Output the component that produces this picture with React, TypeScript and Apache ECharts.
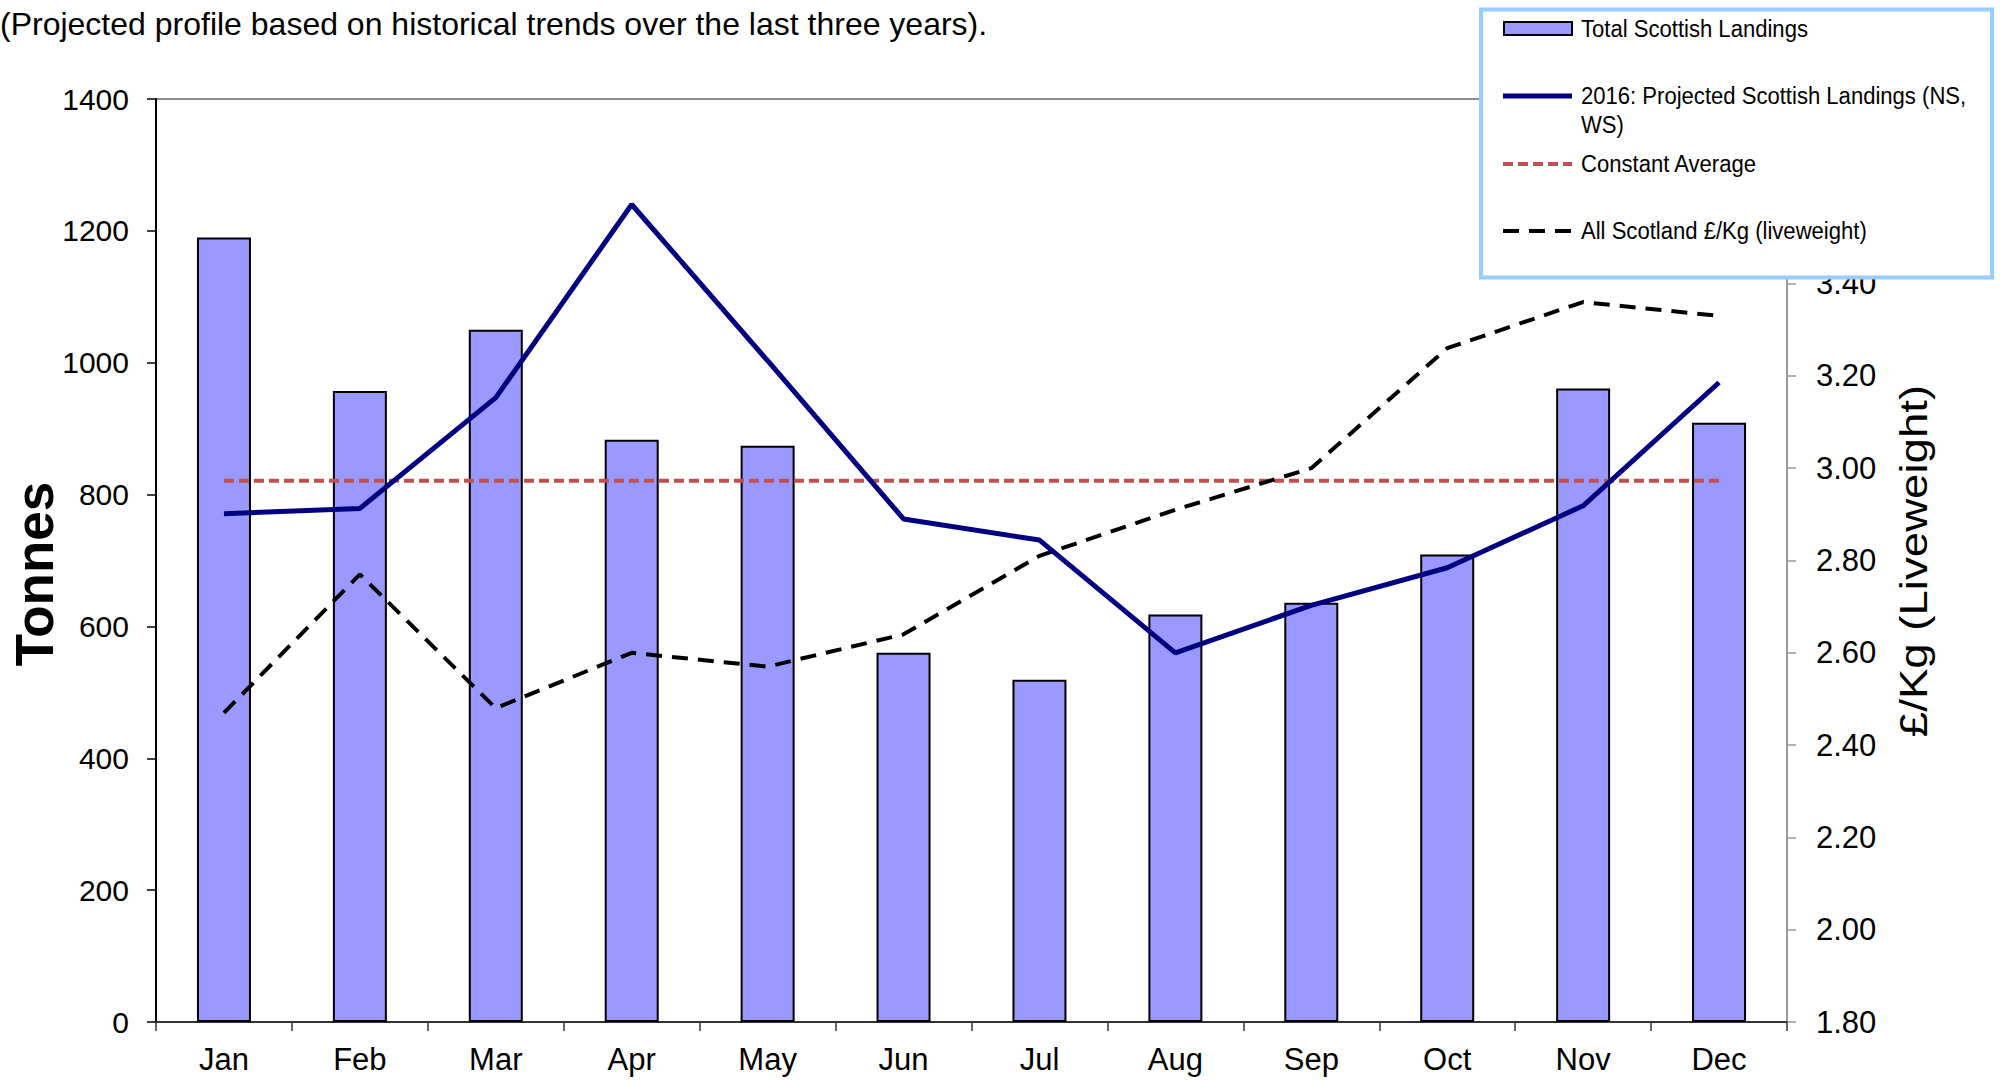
import React, { useEffect, useRef } from 'react';
import * as echarts from 'echarts';

const months = ['Jan', 'Feb', 'Mar', 'Apr', 'May', 'Jun', 'Jul', 'Aug', 'Sep', 'Oct', 'Nov', 'Dec'];
const totalLandings = [1190, 957, 1050, 883, 874, 560, 519, 618, 636, 709, 961, 909];
const projectedLandings = [771, 779, 947, 1240, 1003, 763, 731, 560, 632, 689, 783, 970];
const constantAverage = [821, 821, 821, 821, 821, 821, 821, 821, 821, 821, 821, 821];
const pricePerKg = [2.47, 2.77, 2.48, 2.6, 2.57, 2.64, 2.81, 2.91, 3.0, 3.26, 3.36, 3.33];

const subtitle = '(Projected profile based on historical trends over the last three years).';
const legendNames = [
  'Total Scottish Landings',
  '2016: Projected Scottish Landings (NS,',
  'WS)',
  'Constant Average',
  'All Scotland £/Kg (liveweight)',
];

const SANS = "'Liberation Sans', Arial, Helvetica, sans-serif";

export default function App() {
  const ref = useRef<HTMLDivElement>(null);

  useEffect(() => {
    const chart = echarts.init(ref.current!, null, { renderer: 'svg' });
    const Z = 100;
    chart.setOption({
      animation: false,
      backgroundColor: '#ffffff',
      grid: {
        left: 156,
        right: 213,
        top: 99,
        bottom: 58,
        show: true,
        borderColor: '#8c8c8c',
        borderWidth: 2,
        backgroundColor: 'transparent',
      },
      xAxis: {
        type: 'category',
        data: months,
        boundaryGap: true,
        axisLine: { show: true, lineStyle: { color: '#333', width: 2 } },
        axisTick: { show: true, length: 9, lineStyle: { color: '#333', width: 1.5 } },
        axisLabel: { color: '#000', fontFamily: SANS, fontSize: 31, margin: 22 },
        splitLine: { show: false },
      },
      yAxis: [
        {
          type: 'value',
          min: 0,
          max: 1400,
          interval: 200,
          axisLine: { show: true, lineStyle: { color: '#000', width: 2 } },
          axisTick: { show: true, length: 9, lineStyle: { color: '#000', width: 1.5 } },
          axisLabel: {
            color: '#000',
            fontFamily: SANS,
            fontSize: 30,
            margin: 27,
            formatter: (v: number) => String(v),
          },
          splitLine: { show: false },
        },
        {
          type: 'value',
          position: 'right',
          min: 1.8,
          max: 3.8,
          interval: 0.2,
          axisLine: { show: true, lineStyle: { color: '#999', width: 2 } },
          axisTick: { show: true, length: 9, lineStyle: { color: '#999', width: 1.5 } },
          axisLabel: {
            color: '#000',
            fontFamily: SANS,
            fontSize: 31,
            margin: 29,
            // 3.60 and 3.80 sit behind the legend box in the reference
            formatter: (v: number) => (v > 3.5 ? '' : v.toFixed(2)),
          },
          splitLine: { show: false },
        },
      ],
      series: [
        {
          name: legendNames[0],
          type: 'bar',
          data: totalLandings,
          barWidth: 54,
          yAxisIndex: 0,
          itemStyle: { color: '#9999FF', borderColor: '#000', borderWidth: 2 },
          z: 2,
        },
        {
          name: legendNames[1] + ' ' + legendNames[2],
          type: 'line',
          data: projectedLandings,
          yAxisIndex: 0,
          symbol: 'none',
          lineStyle: { color: '#000080', width: 5 },
          z: 4,
        },
        {
          name: legendNames[3],
          type: 'line',
          data: constantAverage,
          yAxisIndex: 0,
          symbol: 'none',
          lineStyle: { color: '#C0504D', width: 4, type: [10, 5] },
          z: 3,
        },
        {
          name: legendNames[4],
          type: 'line',
          data: pricePerKg,
          yAxisIndex: 1,
          symbol: 'none',
          lineStyle: { color: '#000', width: 4, type: [16, 10] },
          z: 3,
        },
      ],
      graphic: [
        {
          type: 'text',
          left: 0,
          top: 8,
          style: { text: subtitle, font: `32px ${SANS}`, fill: '#000' },
        },
        {
          type: 'text',
          x: 34,
          y: 574,
          rotation: Math.PI / 2,
          style: {
            text: 'Tonnes',
            font: `bold 53px ${SANS}`,
            fill: '#000',
            align: 'center',
            verticalAlign: 'middle',
          },
        },
        {
          type: 'text',
          x: 1914,
          y: 561,
          rotation: Math.PI / 2,
          scaleX: 1.2,
          style: {
            text: '£/Kg (Liveweight)',
            font: `38px ${SANS}`,
            fill: '#000',
            align: 'center',
            verticalAlign: 'middle',
          },
        },
        {
          type: 'rect',
          z: Z,
          shape: { x: 1481, y: 9.5, width: 511, height: 268 },
          style: { fill: '#fff', stroke: '#99CCFF', lineWidth: 4 },
        },
        {
          type: 'rect',
          z: Z + 1,
          shape: { x: 1504, y: 22, width: 68, height: 13 },
          style: { fill: '#9999FF', stroke: '#000', lineWidth: 2 },
        },
        {
          type: 'line',
          z: Z + 1,
          shape: { x1: 1503, y1: 96, x2: 1572, y2: 96 },
          style: { stroke: '#000080', lineWidth: 5 },
        },
        {
          type: 'line',
          z: Z + 1,
          shape: { x1: 1503, y1: 164, x2: 1572, y2: 164 },
          style: { stroke: '#C0504D', lineWidth: 4, lineDash: [10, 5] },
        },
        {
          type: 'line',
          z: Z + 1,
          shape: { x1: 1503, y1: 231, x2: 1572, y2: 231 },
          style: { stroke: '#000', lineWidth: 4, lineDash: [16, 10] },
        },
        ...[
          { t: legendNames[0], y: 29 },
          { t: legendNames[1], y: 96 },
          { t: legendNames[2], y: 125 },
          { t: legendNames[3], y: 164 },
          { t: legendNames[4], y: 231 },
        ].map((d) => ({
          type: 'text',
          z: Z + 1,
          x: 1581,
          y: d.y,
          scaleX: 0.96,
          style: {
            text: d.t,
            font: `23px ${SANS}`,
            fill: '#000',
            align: 'left',
            verticalAlign: 'middle',
          },
        })),
      ],
    });
    return () => chart.dispose();
  }, []);

  return (
    <div
      ref={ref}
      style={{ position: 'fixed', left: 0, top: 0, width: 2000, height: 1080, background: '#fff' }}
    />
  );
}
